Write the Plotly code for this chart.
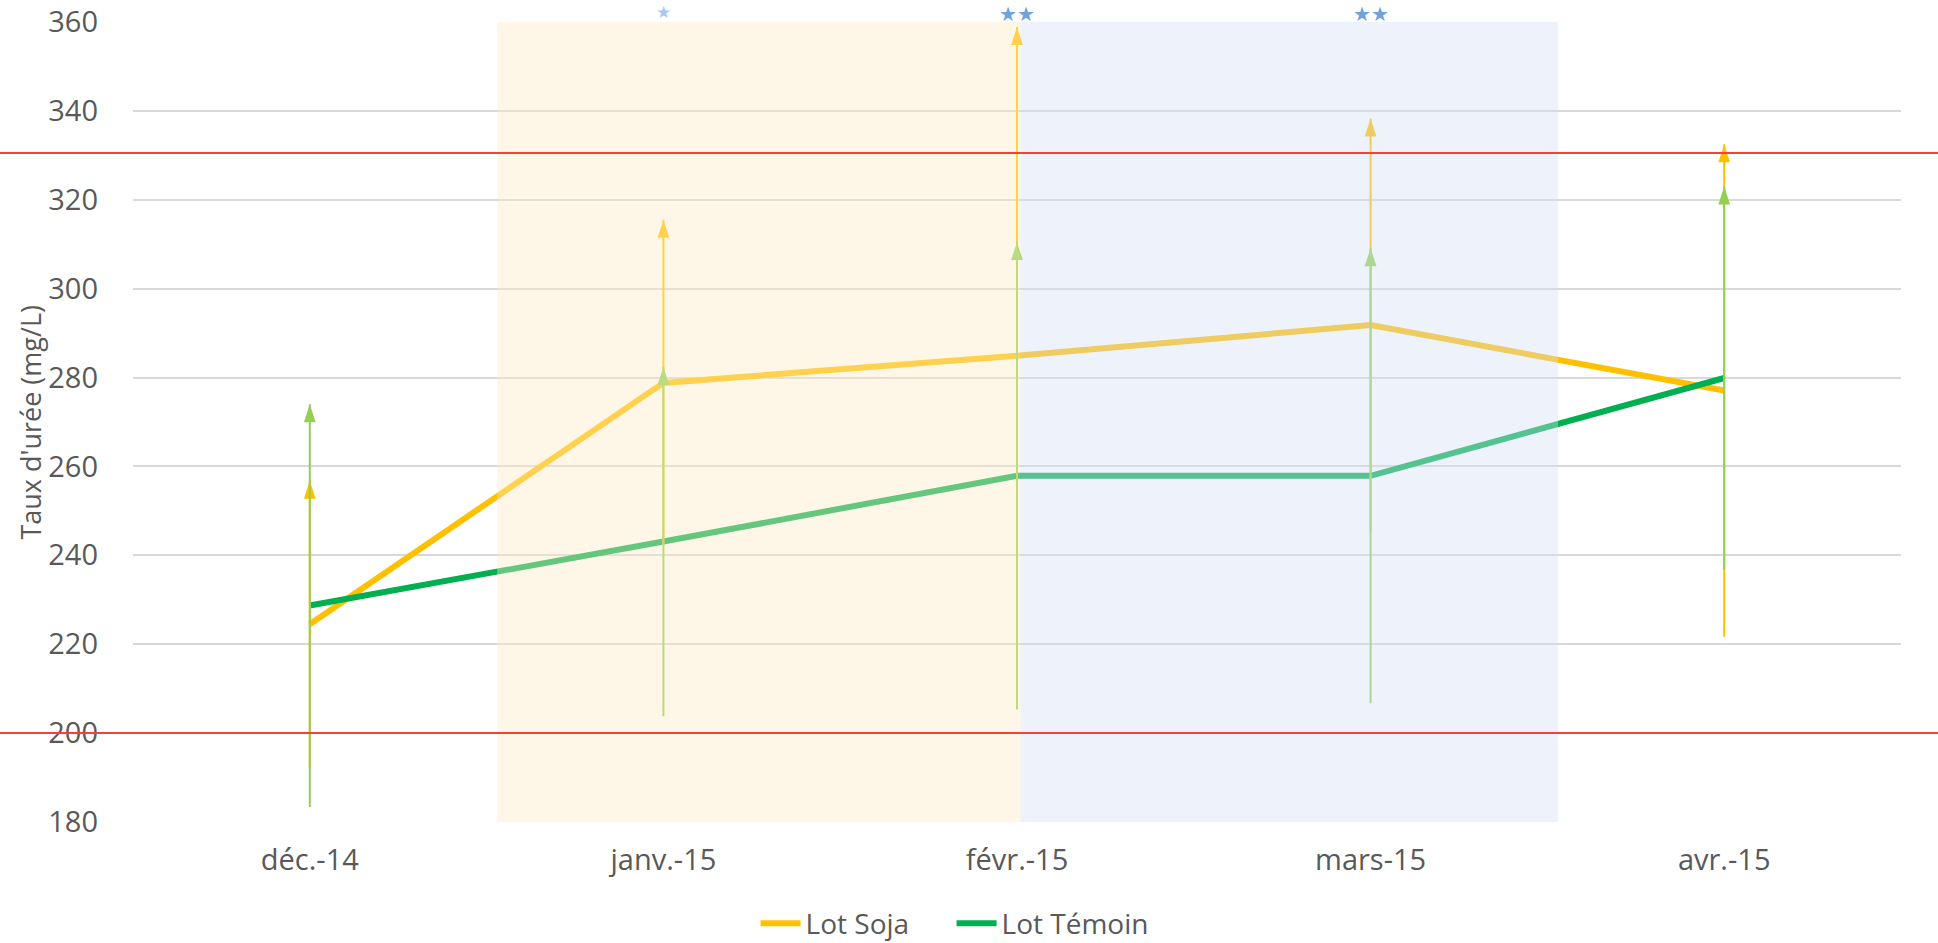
import plotly.graph_objects as go

# ---- data ----
months = ["déc.-14", "janv.-15", "févr.-15", "mars-15", "avr.-15"]
soja = [224.5, 278.8, 284.9, 291.8, 277.1]
temoin = [228.7, 243.1, 257.9, 257.9, 279.9]
soja_err = [32.3, 36.7, 74.0, 46.5, 55.4]
temoin_err = [45.3, 39.3, 52.6, 51.2, 43.1]
stars = ["", "★", "★★", "★★", ""]
star_colors = ["#6FA3DC", "#A9C9EE", "#6FA3DC", "#6FA3DC", "#6FA3DC"]
limits = [200, 330.5]
yellow_period = [0.53, 2.01]
blue_period = [2.01, 3.53]

ORANGE = "#FFC000"
GREEN = "#00B050"
LGREEN = "#92D050"
TXT = "#595959"
FONT = "Open Sans"

fig = go.Figure()

fig.add_trace(go.Scatter(x=months, y=soja, mode="lines", name="Lot Soja",
                         line=dict(color=ORANGE, width=6), hoverinfo="skip"))
fig.add_trace(go.Scatter(x=months, y=temoin, mode="lines", name="Lot Témoin",
                         line=dict(color=GREEN, width=6), hoverinfo="skip"))

for vals, errs, col in [(soja, soja_err, ORANGE), (temoin, temoin_err, LGREEN)]:
    fig.add_trace(go.Scatter(
        x=months, y=vals, mode="markers", showlegend=False, hoverinfo="skip",
        marker=dict(size=1, color="rgba(0,0,0,0)"),
        error_y=dict(type="data", array=errs, symmetric=True, color=col,
                     thickness=2, width=0)))
    fig.add_trace(go.Scatter(
        x=months, y=[v + e for v, e in zip(vals, errs)], mode="markers",
        showlegend=False, hoverinfo="skip", cliponaxis=False,
        marker=dict(symbol="arrow", size=19, color=col, angle=0,
                    line=dict(width=0))))

shapes = [
    dict(type="rect", xref="x", yref="y", x0=yellow_period[0], x1=yellow_period[1],
         y0=180, y1=360, fillcolor="rgba(252,235,196,0.40)", line=dict(width=0),
         layer="above"),
    dict(type="rect", xref="x", yref="y", x0=blue_period[0], x1=blue_period[1],
         y0=180, y1=360, fillcolor="rgba(212,222,242,0.40)", line=dict(width=0),
         layer="above"),
]
for lim in limits:
    shapes.append(dict(type="line", xref="paper", yref="y", x0=-0.1, x1=1.1,
                       y0=lim, y1=lim, line=dict(color="#FF3B3B", width=2),
                       layer="above"))

annotations = []
for m, s, c in zip(months, stars, star_colors):
    if s:
        annotations.append(dict(x=m, xref="x", y=1, yref="paper", text=s,
                                showarrow=False, yanchor="top", yshift=22,
                                font=dict(family="DejaVu Sans", size=20 if len(s) > 1 else 17,
                                          color=c)))
annotations.append(dict(text="Taux d'urée (mg/L)", xref="paper", yref="paper",
                        x=-0.0585, y=0.5, xanchor="center", yanchor="middle",
                        textangle=-90, showarrow=False,
                        font=dict(family=FONT, size=27, color=TXT)))

fig.update_layout(
    width=1938, height=943,
    margin=dict(l=133, r=37, t=22, b=121, autoexpand=False),
    paper_bgcolor="white", plot_bgcolor="white",
    font=dict(family=FONT, size=29, color=TXT),
    shapes=shapes, annotations=annotations,
    showlegend=True,
    legend=dict(orientation="h", x=0.463, xanchor="center", y=-0.127, yanchor="middle",
                font=dict(family=FONT, size=28, color=TXT), itemwidth=40,
                entrywidth=141, bgcolor="rgba(0,0,0,0)"),
    xaxis=dict(type="category", range=[-0.5, 4.5], showgrid=False, zeroline=False,
               showline=False, ticks="", ticklabelstandoff=18, automargin=False,
               tickfont=dict(family=FONT, size=29, color=TXT)),
    yaxis=dict(range=[180, 360], dtick=20, showgrid=True, gridcolor="#D9D9D9",
               gridwidth=1.5, zeroline=False, showline=False, ticks="",
               ticklabelstandoff=34, automargin=False,
               tickfont=dict(family=FONT, size=29, color=TXT)),
)

fig.write_html("out.html", config={"displayModeBar": False},
               post_script="document.body.style.margin='0';document.body.style.overflow='hidden';")
